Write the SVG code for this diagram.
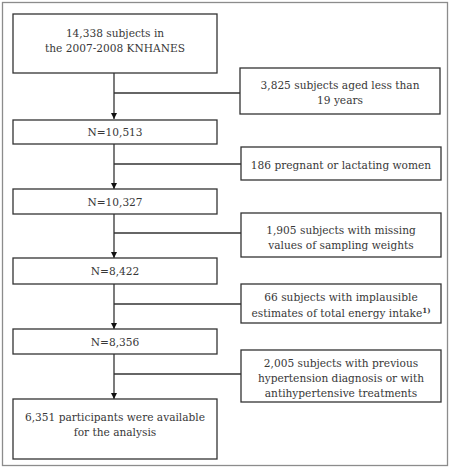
<svg xmlns="http://www.w3.org/2000/svg" width="451" height="470" viewBox="0 0 451 470">
<style>
.box{fill:#fff;stroke:#333;stroke-width:1.3}
.frame{fill:#fff;stroke:#8c8c8c;stroke-width:1.3}
.line{fill:none;stroke:#333;stroke-width:1.3}
text{font-family:"DejaVu Serif","Liberation Serif",serif;font-size:10.6px;fill:#383838;text-anchor:middle}
.sup{font-size:7px;font-weight:bold}
</style>
<defs>
<marker id="arr" viewBox="0 0 10 10" refX="10" refY="5" markerWidth="6" markerHeight="6" markerUnits="userSpaceOnUse" orient="auto">
<path d="M0,0 L10,5 L0,10 Z" fill="#111"/>
</marker>
</defs>
<rect class="frame" x="2.5" y="2.5" width="445" height="463"/>
<g id="connectors">
<line class="line" x1="114" y1="73" x2="114" y2="119" marker-end="url(#arr)"/>
<line class="line" x1="114" y1="93" x2="240" y2="93"/>
<line class="line" x1="114" y1="144" x2="114" y2="189" marker-end="url(#arr)"/>
<line class="line" x1="114" y1="164" x2="241" y2="164"/>
<line class="line" x1="114" y1="214" x2="114" y2="258" marker-end="url(#arr)"/>
<line class="line" x1="114" y1="233" x2="241" y2="233"/>
<line class="line" x1="114" y1="284" x2="114" y2="329" marker-end="url(#arr)"/>
<line class="line" x1="114" y1="304" x2="241" y2="304"/>
<line class="line" x1="114" y1="354" x2="114" y2="399" marker-end="url(#arr)"/>
<line class="line" x1="114" y1="374" x2="241" y2="374"/>
</g>
<g id="n1"><rect class="box" x="13" y="14" width="204" height="59"/>
<text x="115" y="37">14,338 subjects in</text><text x="115" y="52">the 2007-2008 KNHANES</text></g>
<g id="e1"><rect class="box" x="240" y="68" width="200" height="46"/>
<text x="340" y="89">3,825 subjects aged less than</text><text x="340" y="104">19 years</text></g>
<g id="n2"><rect class="box" x="13" y="120" width="204" height="24"/>
<text x="115" y="136">N=10,513</text></g>
<g id="e2"><rect class="box" x="241" y="147" width="200" height="33"/>
<text x="341" y="169">186 pregnant or lactating women</text></g>
<g id="n3"><rect class="box" x="13" y="189" width="204" height="25"/>
<text x="115" y="206">N=10,327</text></g>
<g id="e3"><rect class="box" x="241" y="213" width="200" height="44"/>
<text x="341" y="234">1,905 subjects with missing</text><text x="341" y="249">values of sampling weights</text></g>
<g id="n4"><rect class="box" x="13" y="258" width="204" height="26"/>
<text x="115" y="275">N=8,422</text></g>
<g id="e4"><rect class="box" x="241" y="284" width="200" height="39"/>
<text x="341" y="301">66 subjects with implausible</text><text x="341" y="317">estimates of total energy intake<tspan class="sup" dy="-4">1)</tspan></text></g>
<g id="n5"><rect class="box" x="13" y="329" width="204" height="25"/>
<text x="115" y="346">N=8,356</text></g>
<g id="e5"><rect class="box" x="241" y="350" width="200" height="52"/>
<text x="341" y="367">2,005 subjects with previous</text><text x="341" y="382">hypertension diagnosis or with</text><text x="341" y="397">antihypertensive treatments</text></g>
<g id="n6"><rect class="box" x="13" y="399" width="204" height="60"/>
<text x="115" y="421">6,351 participants were available</text><text x="115" y="436">for the analysis</text></g>
</svg>
